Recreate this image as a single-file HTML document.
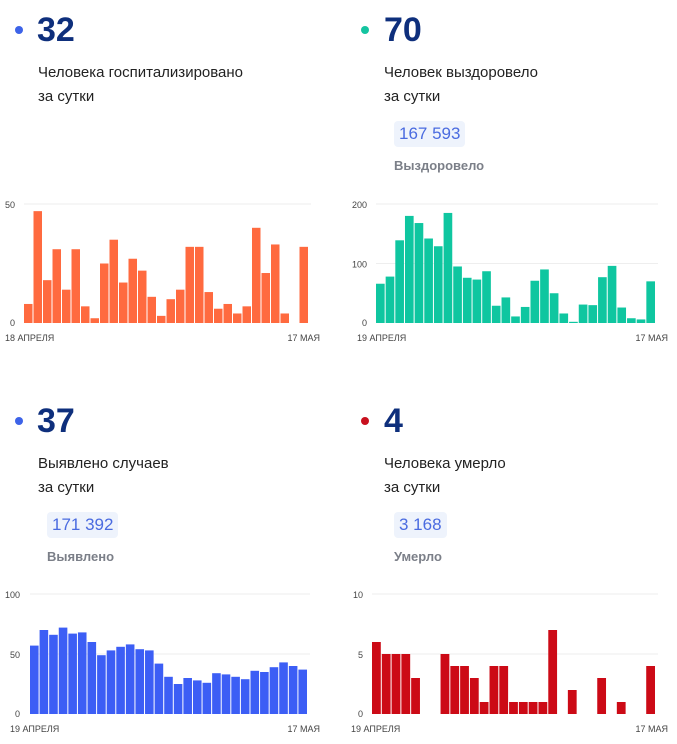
<!DOCTYPE html>
<html><head><meta charset="utf-8"><style>
body{margin:0;width:677px;height:744px;background:#fff;position:relative;overflow:hidden;font-family:"Liberation Sans",Arial,sans-serif}
.a{position:absolute;white-space:nowrap}
.dot{position:absolute;width:8px;height:8px;border-radius:50%}
.num{position:absolute;font-size:34px;font-weight:bold;color:#0e2f7c;line-height:1}
.t{position:absolute;font-size:15px;color:#222;line-height:24px}
.pill{position:absolute;background:#eef3fc;color:#4a6be0;font-size:17px;border-radius:4px;padding:0 5px;height:26px;line-height:26px}
.lbl{position:absolute;font-size:13px;font-weight:bold;color:#7b7f88}
svg{position:absolute;left:0;top:0}
</style></head><body>
<div class="dot" style="left:15px;top:26px;background:#3d63e8"></div>
<div class="num" style="left:37px;top:13px">32</div>
<div class="t" style="left:38px;top:61px">Человека госпитализировано<br>за сутки</div>

<div class="dot" style="left:361px;top:26px;background:#14c4a0"></div>
<div class="num" style="left:384px;top:13px">70</div>
<div class="t" style="left:384px;top:83px;top:61px">Человек выздоровело<br>за сутки</div>
<div class="pill" style="left:394px;top:121px">167 593</div>
<div class="lbl" style="left:394px;top:158px">Выздоровело</div>

<div class="dot" style="left:15px;top:417px;background:#3d63e8"></div>
<div class="num" style="left:37px;top:404px">37</div>
<div class="t" style="left:38px;top:452px">Выявлено случаев<br>за сутки</div>
<div class="pill" style="left:47px;top:512px">171 392</div>
<div class="lbl" style="left:47px;top:549px">Выявлено</div>

<div class="dot" style="left:361px;top:417px;background:#c8101e"></div>
<div class="num" style="left:384px;top:404px">4</div>
<div class="t" style="left:384px;top:452px">Человека умерло<br>за сутки</div>
<div class="pill" style="left:394px;top:512px">3 168</div>
<div class="lbl" style="left:394px;top:549px">Умерло</div>

<svg width="677" height="744" id="s" font-family="Liberation Sans, Arial, sans-serif"></svg>
<script>
var s=document.getElementById('s'),h='';
function chart(x0,x1,base,top,max,mid,vals,col,lab,labx){
 h+='<line x1="'+(x0)+'" x2="'+(x1+2)+'" y1="'+top+'" y2="'+top+'" stroke="#eee"/>';
 if(mid)h+='<line x1="'+x0+'" x2="'+(x1+2)+'" y1="'+((base+top)/2)+'" y2="'+((base+top)/2)+'" stroke="#eee"/>';
 var p=(x1-x0)/vals.length;
 vals.forEach(function(v,i){var hh=v/max*(base-top);if(hh>0)h+='<rect x="'+(x0+i*p).toFixed(2)+'" y="'+(base-hh).toFixed(2)+'" width="'+(p-1).toFixed(2)+'" height="'+hh.toFixed(2)+'" fill="'+col+'"/>';});
 h+='<text x="'+(labx[0])+'" y="'+(top+4)+'" font-size="9" fill="#444" text-anchor="end">'+labx[1]+'</text>';
 if(mid)h+='<text x="'+labx[0]+'" y="'+((base+top)/2+4)+'" font-size="9" fill="#444" text-anchor="end">'+mid+'</text>';
 h+='<text x="'+labx[0]+'" y="'+(base+3)+'" font-size="9" fill="#444" text-anchor="end">0</text>';
 h+='<text x="'+lab[0]+'" y="'+(base+18)+'" font-size="9" fill="#444">'+lab[1]+'</text>';
 h+='<text x="'+lab[2]+'" y="'+(base+18)+'" font-size="9" fill="#444" text-anchor="end">17 МАЯ</text>';
}
chart(24,309,323,204,50,null,[8,47,18,31,14,31,7,2,25,35,17,27,22,11,3,10,14,32,32,13,6,8,4,7,40,21,33,4,0,32],'#ff6a3f',[5,'18 АПРЕЛЯ',320],[15,'50']);
chart(376,656,323,204,200,'100',[66,78,139,180,168,142,129,185,95,76,73,87,29,43,11,27,71,90,50,16,2,31,30,77,96,26,8,6,70],'#0fc6a0',[357,'19 АПРЕЛЯ',668],[367,'200']);
chart(30,308,714,594,100,'50',[57,70,66,72,67,68,60,49,53,56,58,54,53,42,31,25,30,28,26,34,33,31,29,36,35,39,43,40,37],'#3c5ef5',[10,'19 АПРЕЛЯ',320],[20,'100']);
chart(372,656,714,594,10,'5',[6,5,5,5,3,0,0,5,4,4,3,1,4,4,1,1,1,1,7,0,2,0,0,3,0,1,0,0,4],'#cc0a16',[351,'19 АПРЕЛЯ',668],[363,'10']);
s.innerHTML=h;
</script>
</body></html>
